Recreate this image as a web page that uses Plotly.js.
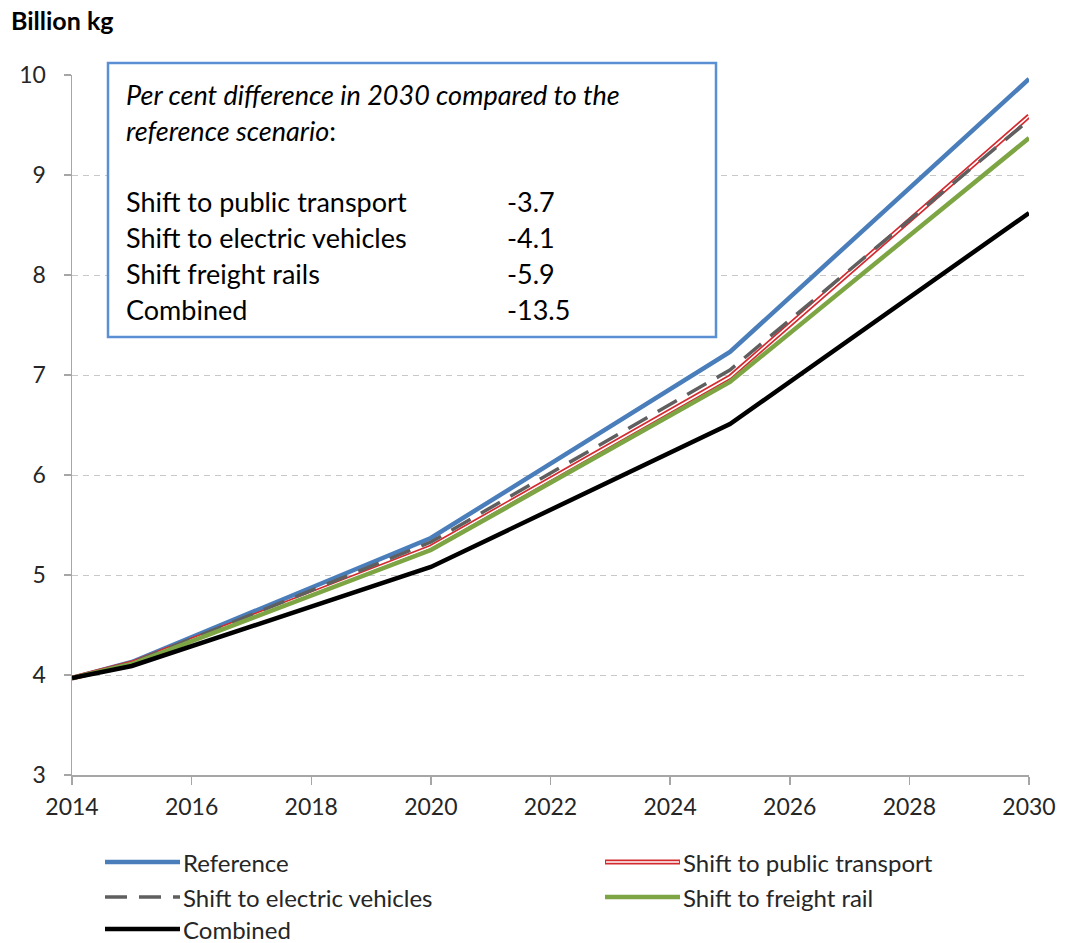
<!DOCTYPE html>
<html>
<head>
<meta charset="utf-8">
<script src="https://cdn.plot.ly/plotly-3.0.1.min.js"></script>
<style>html,body{margin:0;padding:0;background:#fff;}#chart{width:1071px;height:943px;}</style>
</head>
<body>
<div id="chart"></div>
<script>
// ---- data ----
const years = [2014, 2015, 2020, 2025, 2030];
const reference = [3.97, 4.13, 5.37, 7.23, 9.96];
const publicTransport = [3.97, 4.12, 5.28, 6.98, 9.59];
const electricVehicles = [3.97, 4.12, 5.33, 7.05, 9.55];
const freightRail = [3.97, 4.11, 5.25, 6.93, 9.37];
const combined = [3.97, 4.09, 5.08, 6.51, 8.62];
const seriesNames = ["Reference", "Shift to public transport", "Shift to electric vehicles", "Shift to freight rail", "Combined"];
const boxLabels = ["Shift to public transport", "Shift to electric vehicles", "Shift freight rails", "Combined"];
const boxValues = ["-3.7", "-4.1", "-5.9", "-13.5"];
const yTicks = [3, 4, 5, 6, 7, 8, 9, 10];
const xTicks = [2014, 2016, 2018, 2020, 2022, 2024, 2026, 2028, 2030];

// ---- styles ----
const FONT = "Lato, Liberation Sans, Arial, sans-serif";
const TXT = "#262626";
const styles = [
  {color: "#4a7ebb", width: 4.5, dash: "solid"},
  {color: "#d42a2f", width: 5, dash: "solid", inner: {color: "#ffffff", width: 1.6}},
  {color: "#5f5f5f", width: 3.5, dash: "22px,12px"},
  {color: "#7ea544", width: 4.5, dash: "solid"},
  {color: "#000000", width: 4.5, dash: "solid"}
];
const seriesData = [reference, publicTransport, electricVehicles, freightRail, combined];

const traces = [];
seriesData.forEach((ys, i) => {
  const st = styles[i];
  traces.push({x: years, y: ys, type: "scatter", mode: "lines", name: seriesNames[i],
    line: {color: st.color, width: st.width, dash: st.dash}, showlegend: false, hoverinfo: "x+y+name"});
  if (st.inner) {
    traces.push({x: years, y: ys, type: "scatter", mode: "lines", name: seriesNames[i],
      line: {color: st.inner.color, width: st.inner.width}, showlegend: false, hoverinfo: "skip"});
  }
});

// layout geometry
const W = 1071, H = 943;
const M = {l: 72, r: 42, t: 75, b: 168};
const pw = W - M.l - M.r, ph = H - M.t - M.b;
const px = v => (v - M.l) / pw;          // pixel x -> paper
const py = v => (H - M.b - v) / ph;      // pixel y -> paper

const shapes = [];
const annotations = [];

// info box
shapes.push({type: "rect", xref: "paper", yref: "paper", x0: px(108), x1: px(716), y0: py(337), y1: py(63),
  line: {color: "#5b8fd4", width: 2.5}, fillcolor: "rgba(255,255,255,1)", layer: "above"});
const boxFont = {family: FONT, size: 27, color: "#000"};
annotations.push({xref: "paper", yref: "paper", x: px(124), y: py(94), xanchor: "left", yanchor: "middle",
  text: "<i>Per cent difference in 2030 compared to the</i>", showarrow: false, font: boxFont});
annotations.push({xref: "paper", yref: "paper", x: px(124), y: py(130), xanchor: "left", yanchor: "middle",
  text: "<i>reference scenario</i>:", showarrow: false, font: boxFont});
boxLabels.forEach((lab, i) => {
  const yy = py(201 + i * 36);
  annotations.push({xref: "paper", yref: "paper", x: px(124), y: yy, xanchor: "left", yanchor: "middle",
    text: lab, showarrow: false, font: boxFont});
  annotations.push({xref: "paper", yref: "paper", x: px(505), y: yy, xanchor: "left", yanchor: "middle",
    text: boxValues[i], showarrow: false, font: boxFont});
});

// y-axis unit title
annotations.push({xref: "paper", yref: "paper", x: px(9), y: py(20), xanchor: "left", yanchor: "middle",
  text: "<b>Billion kg</b>", showarrow: false, font: {family: FONT, size: 25, color: "#000"}});

// legend (two columns)
const legendPos = [
  {x: 105, y: 862}, {x: 605, y: 862},
  {x: 105, y: 897}, {x: 605, y: 897},
  {x: 105, y: 929}
];
const legendOrder = [0, 1, 2, 3, 4];
legendOrder.forEach((si, k) => {
  const p = legendPos[k], st = styles[si];
  shapes.push({type: "line", xref: "paper", yref: "paper", x0: px(p.x), x1: px(p.x + 75), y0: py(p.y), y1: py(p.y),
    line: {color: st.color, width: st.width, dash: st.dash}});
  if (st.inner) {
    shapes.push({type: "line", xref: "paper", yref: "paper", x0: px(p.x + 1), x1: px(p.x + 74), y0: py(p.y), y1: py(p.y),
      line: {color: st.inner.color, width: st.inner.width}});
  }
  annotations.push({xref: "paper", yref: "paper", x: px(p.x + 76), y: py(p.y), xanchor: "left", yanchor: "middle",
    text: seriesNames[si], showarrow: false, font: {family: FONT, size: 24, color: TXT}});
});

const layout = {
  width: W, height: H,
  margin: M,
  paper_bgcolor: "#fff", plot_bgcolor: "#fff",
  font: {family: FONT, size: 22, color: TXT},
  showlegend: false,
  xaxis: {range: [2014, 2030], tickvals: xTicks, ticktext: xTicks.map(String),
    showgrid: false, zeroline: false, showline: true, linecolor: "#a6a6a6", linewidth: 1.5,
    ticks: "outside", ticklen: 8, tickcolor: "#a6a6a6", tickwidth: 1.5, ticklabelstandoff: 3,
    tickfont: {family: FONT, size: 23, color: TXT}, fixedrange: true},
  yaxis: {range: [3, 10], tickvals: yTicks, ticktext: yTicks.map(String),
    showgrid: true, gridcolor: "#c8c8c8", griddash: "6px,5px", gridwidth: 1,
    zeroline: false, showline: true, linecolor: "#a6a6a6", linewidth: 1.5,
    ticks: "outside", ticklen: 7, tickcolor: "#a6a6a6", tickwidth: 1.5, ticklabelstandoff: 13,
    tickfont: {family: FONT, size: 23, color: TXT}, fixedrange: true},
  shapes: shapes,
  annotations: annotations
};

Plotly.newPlot("chart", traces, layout, {displayModeBar: false, staticPlot: true});
</script>
</body>
</html>
